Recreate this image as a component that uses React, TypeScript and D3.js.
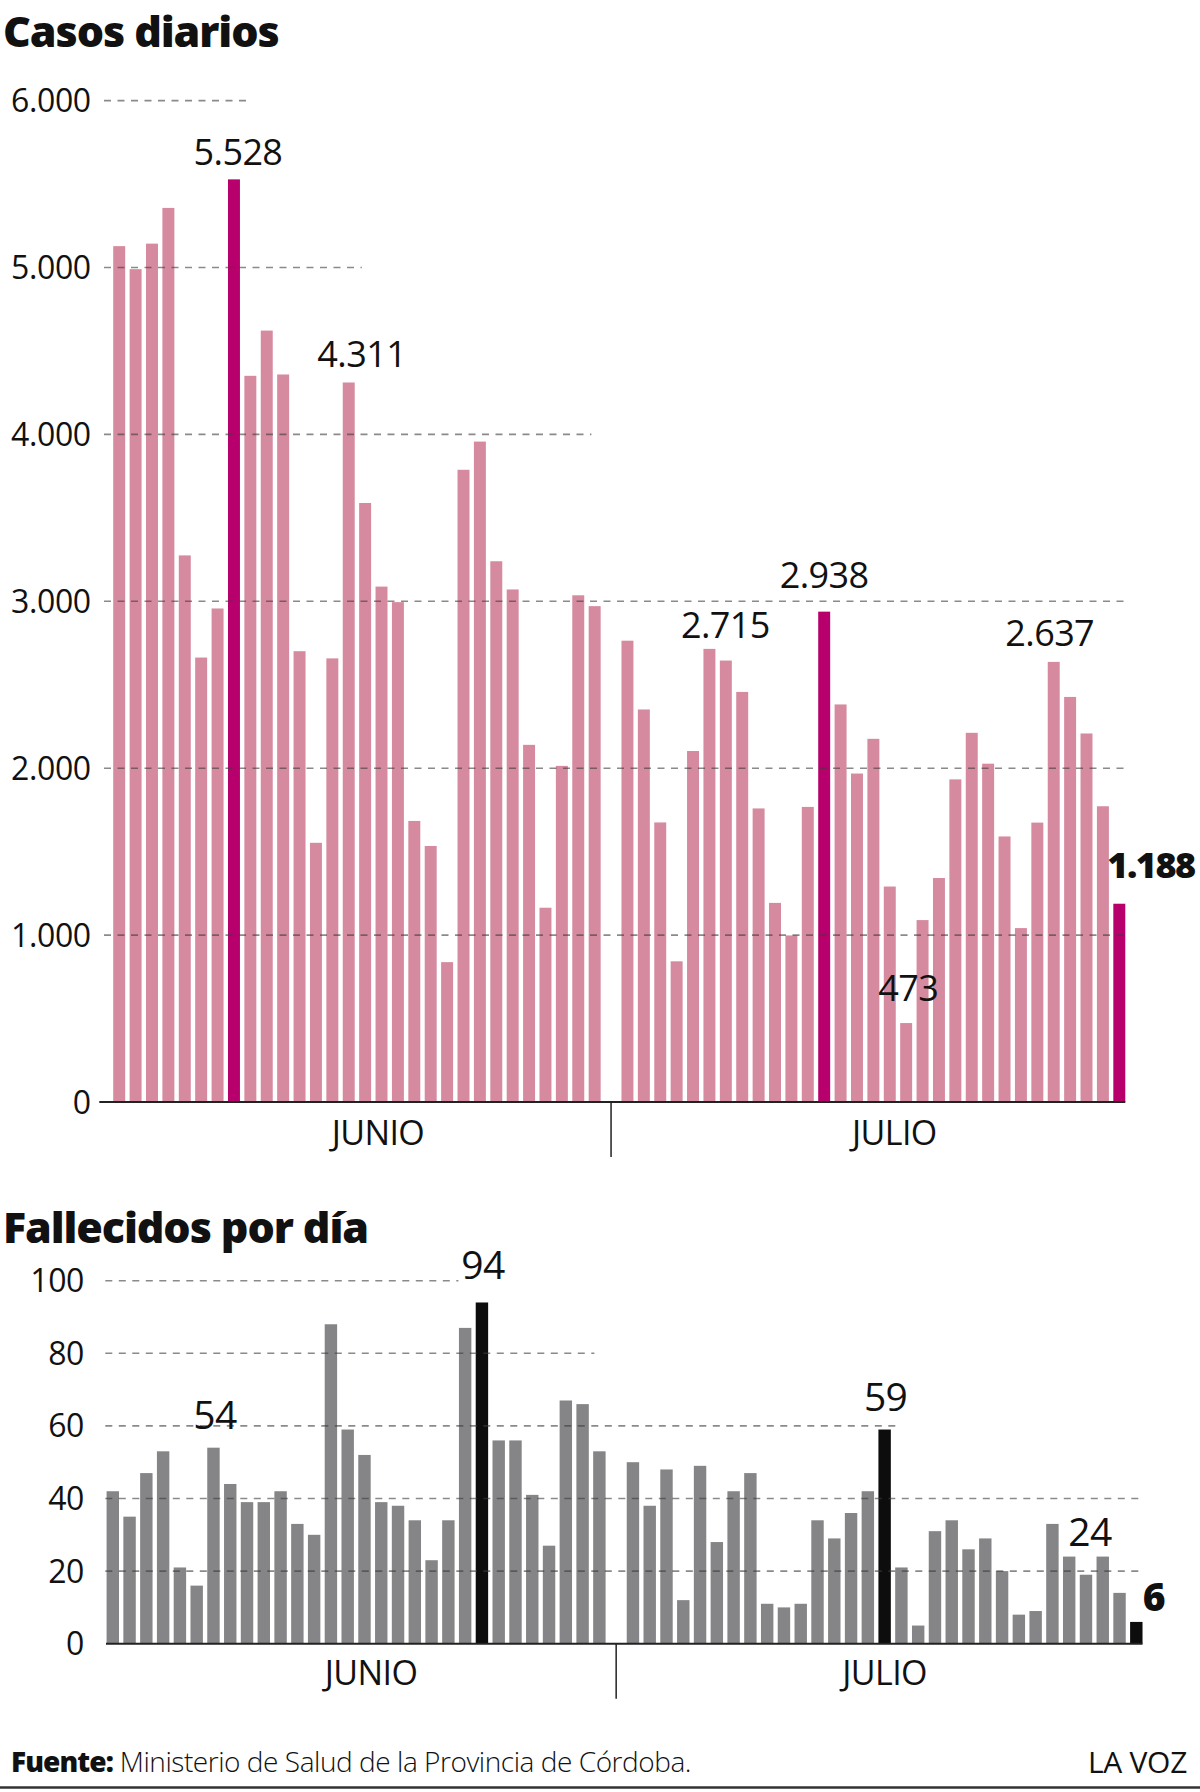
import React from "react";
import * as d3 from "d3";

// ---- Data ----
const diasJunio = d3.range(1, 31).map((d) => `${d} jun`);
const diasJulio = d3.range(1, 32).map((d) => `${d} jul`);
const HUECO = "hueco";
const slots = [...diasJunio, HUECO, ...diasJulio];

const casosJunio = [
  5128, 4990, 5143, 5357, 3275, 2663, 2957, 5528, 4351, 4622, 4359, 2701, 1553, 2658, 4311,
  3589, 3088, 2995, 1684, 1534, 838, 3788, 3957, 3240, 3071, 2140, 1164, 2014, 3036, 2971,
];
const casosJulio = [
  2764, 2352, 1675, 843, 2103, 2715, 2645, 2457, 1759, 1193, 998, 1768, 2938, 2382, 1968, 2176,
  1291, 473, 1090, 1342, 1933, 2212, 2027, 1591, 1042, 1674, 2637, 2427, 2208, 1772, 1188,
];
const fallecidosJunio = [
  42, 35, 47, 53, 21, 16, 54, 44, 39, 39, 42, 33, 30, 88, 59, 52, 39, 38, 34, 23, 34, 87, 94, 56,
  56, 41, 27, 67, 66, 53,
];
const fallecidosJulio = [
  50, 38, 48, 12, 49, 28, 42, 47, 11, 10, 11, 34, 29, 36, 42, 59, 21, 5, 31, 34, 26, 29, 20, 8, 9,
  33, 24, 19, 24, 14, 6,
];

const casosTicks = [0, 1000, 2000, 3000, 4000, 5000, 6000];
const fallecidosTicks = [0, 20, 40, 60, 80, 100];

const casosDestacados = ["8 jun", "13 jul", "31 jul"];
const fallecidosDestacados = ["23 jun", "16 jul", "31 jul"];

const casosEtiquetas = ["8 jun", "15 jun", "6 jul", "13 jul", "18 jul", "27 jul", "31 jul"];
const fallecidosEtiquetas = ["7 jun", "23 jun", "16 jul", "27 jul", "31 jul"];

const meses = [
  { nombre: "JUNIO", dias: diasJunio },
  { nombre: "JULIO", dias: diasJulio },
];

type Dato = { dia: string; valor: number };
const serieCasos: Dato[] = [
  ...diasJunio.map((dia, i) => ({ dia, valor: casosJunio[i] })),
  ...diasJulio.map((dia, i) => ({ dia, valor: casosJulio[i] })),
];
const serieFallecidos: Dato[] = [
  ...diasJunio.map((dia, i) => ({ dia, valor: fallecidosJunio[i] })),
  ...diasJulio.map((dia, i) => ({ dia, valor: fallecidosJulio[i] })),
];

// ---- Styles ----
const W = 1200;
const H = 1792;
const FONT = "'Open Sans', 'Noto Sans', sans-serif";
const INK = "#111111";

const es = d3.formatLocale({
  decimal: ",",
  thousands: ".",
  grouping: [3],
  currency: ["$", ""],
});
const fmt = es.format(",d");

type EtiquetaLayout = { dx: number; gap: number; anchor?: "start" | "middle"; bold?: boolean };

type Panel = {
  titulo: string;
  tituloY: number;
  serie: Dato[];
  ticks: number[];
  max: number;
  destacados: string[];
  etiquetas: string[];
  etiquetaLayout: Record<string, EtiquetaLayout>;
  colorBase: string;
  colorDestacado: string;
  yTop: number;
  yBottom: number;
  x0: number;
  x1: number;
  padding: number;
  gridStart: number;
  gridEnds: Record<number, number>; // slot index where each gridline stops
  axisStart: number;
  tickRight: number;
  tickSize: number;
  labelSize: number;
  monthDx: number[];
  monthBaseline: number;
};

const paneles: Panel[] = [
  {
    titulo: "Casos diarios",
    tituloY: 47,
    serie: serieCasos,
    ticks: casosTicks,
    max: 6000,
    destacados: casosDestacados,
    etiquetas: casosEtiquetas,
    etiquetaLayout: {
      "8 jun": { dx: 4, gap: 14 },
      "15 jun": { dx: 13, gap: 15 },
      "6 jul": { dx: 16, gap: 11 },
      "13 jul": { dx: 0, gap: 24 },
      "18 jul": { dx: 2, gap: 22 },
      "27 jul": { dx: -4, gap: 16 },
      "31 jul": { dx: -12, gap: 26, anchor: "start", bold: true },
    },
    colorBase: "#d68a9f",
    colorDestacado: "#b8006c",
    yTop: 100.6,
    yBottom: 1102,
    x0: 111.0,
    x1: 1127.5,
    padding: 0.27,
    gridStart: 104,
    gridEnds: { 6000: 7.9, 5000: 14.8, 4000: 28.8, 3000: 61.4, 2000: 61.4, 1000: 61.4 },
    axisStart: 99.3,
    tickRight: 90.7,
    tickSize: 32,
    labelSize: 36,
    monthDx: [21, 21],
    monthBaseline: 1145,
  },
  {
    titulo: "Fallecidos por día",
    tituloY: 1243,
    serie: serieFallecidos,
    ticks: fallecidosTicks,
    max: 100,
    destacados: fallecidosDestacados,
    etiquetas: fallecidosEtiquetas,
    etiquetaLayout: {
      "7 jun": { dx: 1.5, gap: 19 },
      "23 jun": { dx: 1, gap: 23 },
      "16 jul": { dx: 1, gap: 18.5 },
      "27 jul": { dx: -1, gap: 11, anchor: "start" },
      "31 jul": { dx: 6.5, gap: 10.6, anchor: "start", bold: true },
    },
    colorBase: "#858587",
    colorDestacado: "#0d0d0d",
    yTop: 1280.7,
    yBottom: 1643.7,
    x0: 104.4,
    x1: 1144.7,
    padding: 0.26,
    gridStart: 105.3,
    gridEnds: { 100: 20.6, 80: 28.7, 60: 46.9, 40: 61.3, 20: 61.3 },
    axisStart: 106,
    tickRight: 84,
    tickSize: 32,
    labelSize: 39,
    monthDx: [15, 0],
    monthBaseline: 1685,
  },
];

function BarPanel({ p }: { p: Panel }) {
  const x = d3
    .scaleBand<string>()
    .domain(slots)
    .range([p.x0, p.x1])
    .paddingInner(p.padding)
    .paddingOuter(p.padding / 2);
  const y = d3.scaleLinear().domain([0, p.max]).range([p.yBottom, p.yTop]);
  const bw = x.bandwidth();
  const step = x.step();
  const center = (d: string) => (x(d) ?? 0) + bw / 2;
  const slotX = (k: number) => center(slots[0]) + k * step;
  const ultimo = slots[slots.length - 1];
  const axisEnd = (x(ultimo) ?? 0) + bw;
  const gapX = center(HUECO);
  const byDay = new Map(p.serie.map((d) => [d.dia, d.valor]));

  return (
    <g>
      <text
        x={3}
        y={p.tituloY}
        fontFamily={FONT}
        fontWeight={800}
        fontSize={43}
        letterSpacing={-1.1}
        fill={INK}
      >
        {p.titulo}
      </text>

      {p.ticks.map((t) => (
        <text
          key={`t${t}`}
          x={p.tickRight}
          y={y(t)}
          dy="0.36em"
          textAnchor="end"
          fontFamily={FONT}
          fontSize={p.tickSize}
          letterSpacing={-0.4}
          fill={INK}
        >
          {fmt(t)}
        </text>
      ))}

      {p.serie.map((d) => (
        <rect
          key={d.dia}
          x={x(d.dia)}
          y={y(d.valor)}
          width={bw}
          height={y(0) - y(d.valor)}
          fill={p.destacados.includes(d.dia) ? p.colorDestacado : p.colorBase}
        />
      ))}

      {p.ticks
        .filter((t) => t > 0)
        .map((t) => (
          <line
            key={`g${t}`}
            x1={p.gridStart}
            x2={slotX(p.gridEnds[t])}
            y1={y(t)}
            y2={y(t)}
            stroke="rgba(60,60,60,0.6)"
            strokeWidth={1.6}
            strokeDasharray="7 6.5"
          />
        ))}

      <line x1={p.axisStart} x2={axisEnd} y1={y(0)} y2={y(0)} stroke="#222" strokeWidth={2} />
      <line x1={gapX} x2={gapX} y1={y(0)} y2={y(0) + 55} stroke="#222" strokeWidth={1.5} />

      {meses.map((m, i) => {
        const a = center(m.dias[0]);
        const b = center(m.dias[m.dias.length - 1]);
        return (
          <text
            key={m.nombre}
            x={(a + b) / 2 + p.monthDx[i]}
            y={p.monthBaseline}
            textAnchor="middle"
            fontFamily={FONT}
            fontSize={34}
            letterSpacing={-0.6}
            fill={INK}
          >
            {m.nombre}
          </text>
        );
      })}

      {p.etiquetas.map((dia) => {
        const v = byDay.get(dia) ?? 0;
        const l = p.etiquetaLayout[dia];
        return (
          <text
            key={`e${dia}`}
            x={center(dia) + l.dx}
            y={y(v) - l.gap}
            textAnchor={l.anchor ?? "middle"}
            fontFamily={FONT}
            fontWeight={l.bold ? 800 : 500}
            fontSize={p.labelSize}
            letterSpacing={l.bold ? -1.5 : -0.6}
            fill={INK}
          >
            {fmt(v)}
          </text>
        );
      })}
    </g>
  );
}

export default function App() {
  return (
    <svg
      width={W}
      height={H}
      viewBox={`0 0 ${W} ${H}`}
      style={{ position: "absolute", left: 0, top: 0, background: "#fff" }}
    >
      <rect width={W} height={H} fill="#fff" />
      {paneles.map((p) => (
        <BarPanel key={p.titulo} p={p} />
      ))}
      <text x={11} y={1772} fontFamily={FONT} fontSize={28} fill={INK}>
        <tspan fontWeight={800} letterSpacing={-0.9}>
          Fuente:
        </tspan>
        <tspan fontWeight={300} letterSpacing={-0.45}>
          {" Ministerio de Salud de la Provincia de Córdoba."}
        </tspan>
      </text>
      <text
        x={1187}
        y={1773}
        textAnchor="end"
        fontFamily={FONT}
        fontSize={30}
        letterSpacing={-0.3}
        fill={INK}
      >
        LA VOZ
      </text>
      <line x1={0} x2={W} y1={1787.5} y2={1787.5} stroke="#333" strokeWidth={2.5} />
    </svg>
  );
}
